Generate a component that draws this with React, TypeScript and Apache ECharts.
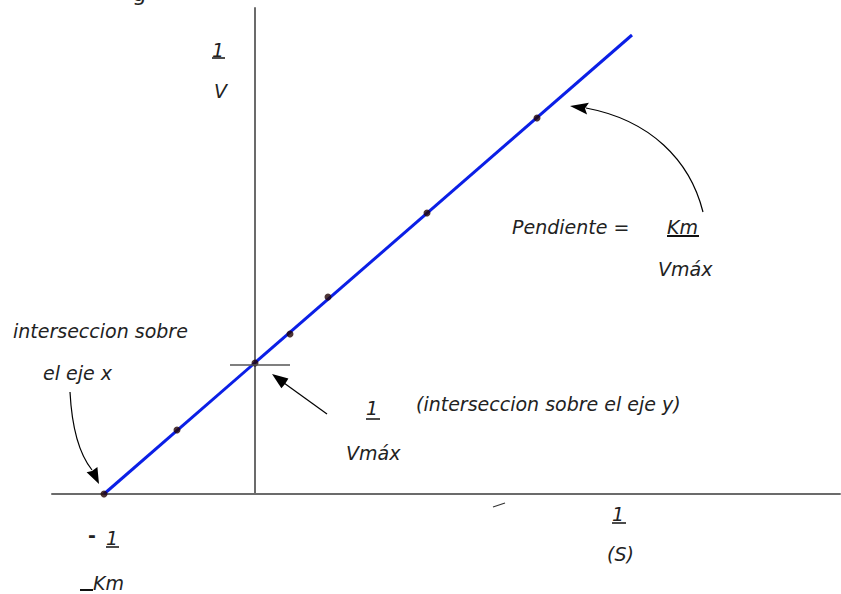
import React, { useEffect, useRef } from "react";
import * as echarts from "echarts";

// Lineweaver-Burk (doble recíproco): 1/S en x, 1/V en y
const invS = [-3.02, -1.56, 0, 0.7, 1.46, 3.44, 5.64];
const invV = [0, 1.28, 2.62, 3.2, 3.94, 5.62, 7.52];

// extremos de la recta ajustada
const lineX = [-3.02, 7.54];
const lineY = [0, 9.18];

// marca corta sobre el eje y en 1/Vmáx
const tickY = 2.58;
const tickX = [-0.5, 0.7];

const X_RANGE = [-4.06, 11.7];
const Y_RANGE = [0, 9.72];

const FONT = "DejaVu Sans";
const TXT = "#222";

function label(text: string, x: number, y: number, size = 19, extra: any = {}) {
  return {
    type: "text",
    x,
    y,
    style: {
      text,
      fontFamily: FONT,
      fontSize: size,
      fontStyle: "italic",
      fill: TXT,
      textAlign: "left",
      textVerticalAlign: "middle",
      ...extra,
    },
  };
}

function rule(x1: number, x2: number, y: number, w = 1.5) {
  return {
    type: "line",
    shape: { x1, y1: y, x2, y2: y },
    style: { stroke: "#111", lineWidth: w },
  };
}

function head(points: number[][]) {
  return { type: "polygon", shape: { points }, style: { fill: "#000" } };
}

export default function App() {
  const ref = useRef<HTMLDivElement>(null);

  useEffect(() => {
    if (!ref.current) return;
    const chart = echarts.init(ref.current, null, { renderer: "svg" });
    const axisLine = { show: true, onZero: true, lineStyle: { color: "#6b6b6b", width: 2 } };

    chart.setOption({
      animation: false,
      backgroundColor: "#fff",
      grid: { left: 52, right: 1, top: 8, bottom: 100 },
      xAxis: {
        type: "value",
        min: X_RANGE[0],
        max: X_RANGE[1],
        axisLine,
        axisTick: { show: false },
        axisLabel: { show: false },
        splitLine: { show: false },
      },
      yAxis: {
        type: "value",
        min: Y_RANGE[0],
        max: Y_RANGE[1],
        axisLine,
        axisTick: { show: false },
        axisLabel: { show: false },
        splitLine: { show: false },
      },
      series: [
        {
          type: "line",
          data: lineX.map((x, i) => [x, lineY[i]]),
          showSymbol: false,
          lineStyle: { color: "#0b1fe6", width: 3 },
          z: 2,
          markLine: {
            silent: true,
            symbol: "none",
            label: { show: false },
            lineStyle: { color: "#555", width: 1.5, type: "solid" },
            data: [[{ coord: [tickX[0], tickY] }, { coord: [tickX[1], tickY] }]],
          },
        },
        {
          type: "scatter",
          data: invS.map((x, i) => [x, invV[i]]),
          symbolSize: 7,
          itemStyle: { color: "#220404" },
          z: 3,
        },
      ],
      graphic: [
        // título recortado en el borde superior
        label("g", 132, -7, 22, { fontStyle: "normal" }),

        // eje y: 1/V
        label("1", 212, 50),
        rule(212, 225, 58),
        label("V", 214, 91),

        // intersección con el eje x
        label("interseccion sobre", 13, 331),
        label("el eje x", 43, 373),
        {
          type: "bezierCurve",
          shape: { x1: 70, y1: 392, cpx1: 72, cpy1: 430, cpx2: 80, cpy2: 455, x2: 92, y2: 470 },
          style: { stroke: "#000", lineWidth: 1.2, fill: "none" },
        },
        head([[99, 484], [97.4, 466.9], [92, 471], [86.6, 472.3]]),

        // -1/Km
        label("-", 88, 535, 19, { fontStyle: "normal", fontWeight: "bold" }),
        label("1", 106, 538),
        rule(106, 119, 547),
        rule(80, 93, 590, 2),
        label("Km", 93, 583),

        // 1/Vmáx (intersección con el eje y)
        {
          type: "line",
          shape: { x1: 327, y1: 414, x2: 284, y2: 383 },
          style: { stroke: "#000", lineWidth: 1.2 },
        },
        head([[272, 374], [288.4, 378.5], [285, 384], [281.4, 388.3]]),
        label("1", 366, 408),
        rule(366, 380, 419),
        label("Vmáx", 346, 453),
        label("(interseccion sobre el eje y)", 416, 404),

        // eje x: 1/(S)
        {
          type: "line",
          shape: { x1: 493, y1: 507, x2: 505, y2: 503 },
          style: { stroke: "#333", lineWidth: 1.2 },
        },
        label("1", 612, 514),
        rule(612, 626, 523),
        label("(S)", 607, 554),

        // pendiente
        label("Pendiente =", 512, 227),
        label("Km", 667, 227),
        rule(667, 699, 236, 2),
        label("Vmáx", 658, 269),
        {
          type: "bezierCurve",
          shape: { x1: 703, y1: 212, cpx1: 690, cpy1: 160, cpx2: 650, cpy2: 120, x2: 586, y2: 108 },
          style: { stroke: "#000", lineWidth: 1.2, fill: "none" },
        },
        head([[570, 106], [588.9, 102.8], [585, 108.5], [587.1, 114.6]]),
      ],
    });

    return () => chart.dispose();
  }, []);

  return (
    <div
      ref={ref}
      style={{ position: "fixed", left: 0, top: 0, width: 841, height: 594, background: "#fff" }}
    />
  );
}
